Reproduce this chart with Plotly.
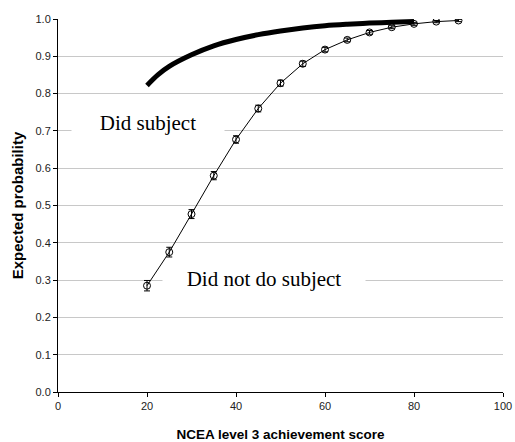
import plotly.graph_objects as go

# "Did not do subject" series (points with error bars)
x_not = [20, 25, 30, 35, 40, 45, 50, 55, 60, 65, 70, 75, 80, 85, 90]
y_not = [0.285, 0.375, 0.477, 0.580, 0.677, 0.760, 0.828, 0.880, 0.918, 0.944, 0.964, 0.978, 0.987, 0.993, 0.996]
err_not = [0.014, 0.013, 0.012, 0.011, 0.010, 0.009, 0.008, 0.007, 0.006, 0.005, 0.005, 0.004, 0.004, 0.003, 0.003]

# "Did subject" curve
x_did = [20, 22.5, 25, 30, 35, 40, 45, 50, 55, 60, 65, 70, 75, 80]
y_did = [0.822, 0.851, 0.873, 0.904, 0.928, 0.945, 0.958, 0.968, 0.976, 0.982, 0.986, 0.989, 0.991, 0.993]

x_ticks = [0, 20, 40, 60, 80, 100]
y_ticks = [0.0, 0.1, 0.2, 0.3, 0.4, 0.5, 0.6, 0.7, 0.8, 0.9, 1.0]

fig = go.Figure()

fig.add_trace(go.Scatter(
    x=x_did, y=y_did, mode="lines",
    line=dict(color="black", width=5, shape="spline", smoothing=1.0),
    showlegend=False, hoverinfo="skip"))

fig.add_trace(go.Scatter(
    x=x_not, y=y_not, mode="lines+markers",
    line=dict(color="black", width=1),
    marker=dict(symbol="circle-open", size=7, color="black", line=dict(width=1)),
    error_y=dict(type="data", array=err_not, visible=True, color="black", thickness=1, width=3),
    showlegend=False))

fig.add_annotation(x=20.3, y=0.722, xref="x", yref="y", text="Did subject",
                   showarrow=False, bgcolor="white", width=150,
                   font=dict(family="Liberation Serif", size=21, color="black"))
fig.add_annotation(x=46.4, y=0.302, xref="x", yref="y", text="Did not do subject",
                   showarrow=False, bgcolor="white", width=200,
                   font=dict(family="Liberation Serif", size=21, color="black"))

fig.update_layout(
    width=515, height=442,
    margin=dict(l=58, r=12, t=19, b=50),
    paper_bgcolor="white", plot_bgcolor="white",
    font=dict(family="Liberation Sans", size=11, color="#222"),
)
fig.update_xaxes(
    range=[0, 100], tickvals=x_ticks, ticks="outside", ticklen=4, tickcolor="black",
    showline=True, linecolor="black", linewidth=1, showgrid=False, zeroline=False,
    tickfont=dict(size=11, color="#222"), automargin=False,
    title=dict(text="<b>NCEA level 3 achievement score</b>", font=dict(size=13.5, color="black"), standoff=18),
)
fig.update_yaxes(
    range=[0, 1.0], tickvals=y_ticks, tickformat=".1f", ticks="outside", ticklen=4, tickcolor="black",
    showline=True, linecolor="black", linewidth=1, showgrid=True, gridcolor="#c8c8c8", gridwidth=1,
    zeroline=False, tickfont=dict(size=11, color="#222"), automargin=False,
    title=dict(text="<b>Expected probability</b>", font=dict(size=15, color="black"), standoff=8),
)

fig.write_html("out.html")
